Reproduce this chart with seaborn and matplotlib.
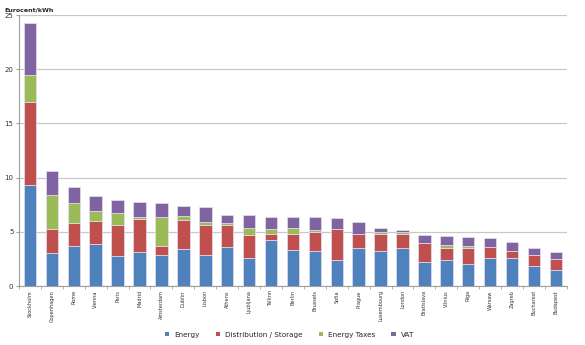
import numpy as np
import pandas as pd
import matplotlib
matplotlib.use("Agg")
import matplotlib.pyplot as plt
import seaborn as sns
from matplotlib.patches import Patch

cities = ["Stockholm", "Copenhagen", "Rome", "Vienna", "Paris", "Madrid", "Amsterdam",
          "Dublin", "Lisbon", "Athens", "Ljubljana", "Tallinn", "Berlin", "Brussels",
          "Sofia", "Prague", "Luxembourg", "London", "Bratislava", "Vilnius", "Riga",
          "Warsaw", "Zagreb", "Bucharest", "Budapest"]
energy = [9.3, 3.05, 3.7, 3.88, 2.8, 3.15, 2.84, 3.45, 2.9, 3.6, 2.56, 4.22, 3.36, 3.27,
          2.4, 3.51, 3.2, 3.51, 2.22, 2.38, 2.07, 2.56, 2.56, 1.85, 1.52]
distribution = [7.7, 2.25, 2.07, 2.12, 2.8, 3.02, 0.89, 2.68, 2.74, 2.04, 2.13, 0.59, 1.45,
                1.73, 2.84, 1.33, 1.64, 1.33, 1.75, 1.13, 1.44, 1.04, 0.71, 1.05, 0.98]
taxes = [2.45, 3.1, 1.93, 0.93, 1.12, 0.21, 2.65, 0.37, 0.28, 0.13, 0.67, 0.49, 0.55, 0.18,
         0.0, 0.0, 0.12, 0.12, 0.0, 0.25, 0.22, 0.0, 0.0, 0.0, 0.0]
vat = [4.85, 2.17, 1.45, 1.39, 1.2, 1.39, 1.32, 0.84, 1.38, 0.76, 1.17, 1.08, 1.02, 1.14,
       1.04, 1.02, 0.37, 0.25, 0.78, 0.86, 0.8, 0.87, 0.8, 0.58, 0.68]
series_names = ["Energy", "Distribution / Storage", "Energy Taxes", "VAT"]
colors = ["#4F81BD", "#C0504D", "#9BBB59", "#8064A2"]

df = pd.DataFrame({"city": cities, "Energy": energy, "Distribution / Storage": distribution,
                   "Energy Taxes": taxes, "VAT": vat})

sns.set_style("white")
plt.rcParams['font.family'] = ['DejaVu Sans']

fig = plt.figure(figsize=(5.85, 3.45), dpi=100)
ax = fig.add_axes([0.0325, 0.171, 0.9365, 0.7855])

bottom = np.zeros(len(cities))
for name, col in zip(series_names, colors):
    sns.barplot(data=df, x="city", y=name, color=col, saturation=1, bottom=bottom, width=0.57,
                edgecolor="#E6E0F0", linewidth=0.5, ax=ax, zorder=3)
    bottom = bottom + df[name].values

ax.set_ylim(0, 25)
ax.set_xlim(-0.5, len(cities) - 0.5)
ax.set_yticks([0, 5, 10, 15, 20, 25])
ax.yaxis.grid(True, color="#C8C8C8", linewidth=0.9, zorder=0)
ax.set_axisbelow(True)
ax.set_xlabel("")
ax.set_ylabel("")
for s in ["top", "right"]:
    ax.spines[s].set_visible(False)
ax.spines["left"].set_color("#A0A0A0")
ax.spines["bottom"].set_color("#A0A0A0")
ax.spines["left"].set_linewidth(0.8)
ax.spines["bottom"].set_linewidth(0.8)

ax.tick_params(axis="y", labelsize=5, length=2, color="#A0A0A0", pad=2, left=True,
               labelcolor="#333333")
ax.tick_params(axis="x", labelsize=3.6, length=0, pad=3, labelcolor="#333333")
ax.set_xticks(range(len(cities)))
ax.set_xticklabels(cities, rotation=90)
ax.set_xticks(np.arange(-0.5, len(cities), 1), minor=True)
ax.tick_params(axis="x", which="minor", length=2, color="#A0A0A0", bottom=True)

fig.text(0.008, 0.972, "Eurocent/kWh", fontsize=4.5, fontweight="bold", ha="left", va="center")

handles = [Patch(facecolor=c, edgecolor="none") for c in colors]
fig.legend(handles, series_names, loc="center", bbox_to_anchor=(0.495, 0.03), ncol=4,
           frameon=False, fontsize=5.2, handlelength=0.6, handleheight=0.6,
           columnspacing=2.2, handletextpad=0.7)

fig.savefig("out.png", dpi=100)
